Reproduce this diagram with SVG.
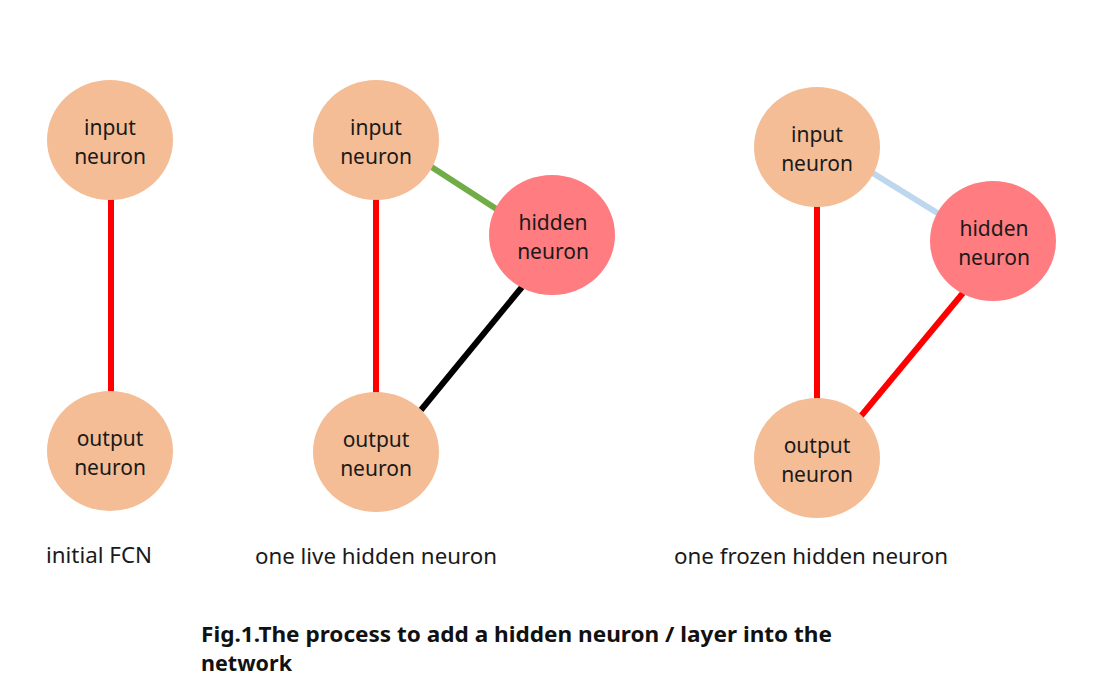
<svg xmlns="http://www.w3.org/2000/svg" width="1109" height="691" viewBox="0 0 1109 691">
<style>
.in{fill:#F4BD96}
.hid{fill:#FF7C80}
.nt{font-family:"Noto Sans","Open Sans",sans-serif;font-size:21px;fill:#1a1a1a;text-anchor:middle}
.lbl{font-family:"Noto Sans","Open Sans",sans-serif;font-size:21px;fill:#1a1a1a}
.cap{font-family:"Noto Sans","Open Sans",sans-serif;font-size:22px;font-weight:bold;fill:#111}
.e{stroke-width:6;fill:none}
</style>
<rect width="1109" height="691" fill="#fff"/>
<g id="connectors">
<line class="e" x1="111" y1="198" x2="111" y2="393" stroke="#FF0000"/>
<line class="e" x1="376" y1="198" x2="376" y2="393" stroke="#FF0000"/>
<line class="e" x1="430" y1="166" x2="498" y2="210" stroke="#70AD47"/>
<line class="e" x1="522" y1="287" x2="421" y2="410" stroke="#000000"/>
<line class="e" x1="817" y1="205" x2="817" y2="400" stroke="#FF0000"/>
<line class="e" x1="871" y1="172" x2="939" y2="214" stroke="#BDD7EE"/>
<line class="e" x1="963" y1="293" x2="861" y2="416" stroke="#FF0000"/>
</g>
<g id="n1-input"><ellipse class="in" cx="110" cy="140" rx="63" ry="60"/><text class="nt" x="110" y="135">input</text><text class="nt" x="110" y="164">neuron</text></g>
<g id="n1-output"><ellipse class="in" cx="110" cy="451" rx="63" ry="60"/><text class="nt" x="110" y="446">output</text><text class="nt" x="110" y="475">neuron</text></g>
<g id="n2-input"><ellipse class="in" cx="376" cy="140" rx="63" ry="60"/><text class="nt" x="376" y="135">input</text><text class="nt" x="376" y="164">neuron</text></g>
<g id="n2-hidden"><ellipse class="hid" cx="552" cy="235" rx="63" ry="60"/><text class="nt" x="553" y="230">hidden</text><text class="nt" x="553" y="259">neuron</text></g>
<g id="n2-output"><ellipse class="in" cx="376" cy="452" rx="63" ry="60"/><text class="nt" x="376" y="447">output</text><text class="nt" x="376" y="476">neuron</text></g>
<g id="n3-input"><ellipse class="in" cx="817" cy="147" rx="63" ry="60"/><text class="nt" x="817" y="142">input</text><text class="nt" x="817" y="171">neuron</text></g>
<g id="n3-hidden"><ellipse class="hid" cx="993" cy="241" rx="63" ry="60"/><text class="nt" x="994" y="236">hidden</text><text class="nt" x="994" y="265">neuron</text></g>
<g id="n3-output"><ellipse class="in" cx="817" cy="458" rx="63" ry="60"/><text class="nt" x="817" y="453">output</text><text class="nt" x="817" y="482">neuron</text></g>
<g id="labels">
<text class="lbl" x="46" y="563" textLength="106" lengthAdjust="spacingAndGlyphs">initial FCN</text>
<text class="lbl" x="255" y="564" textLength="242" lengthAdjust="spacingAndGlyphs">one live hidden neuron</text>
<text class="lbl" x="674" y="564" textLength="274" lengthAdjust="spacingAndGlyphs">one frozen hidden neuron</text>
<text class="cap" x="201" y="642" textLength="631" lengthAdjust="spacingAndGlyphs">Fig.1.The process to add a hidden neuron / layer into the</text>
<text class="cap" x="201" y="671" textLength="91" lengthAdjust="spacingAndGlyphs">network</text>
</g>
</svg>
